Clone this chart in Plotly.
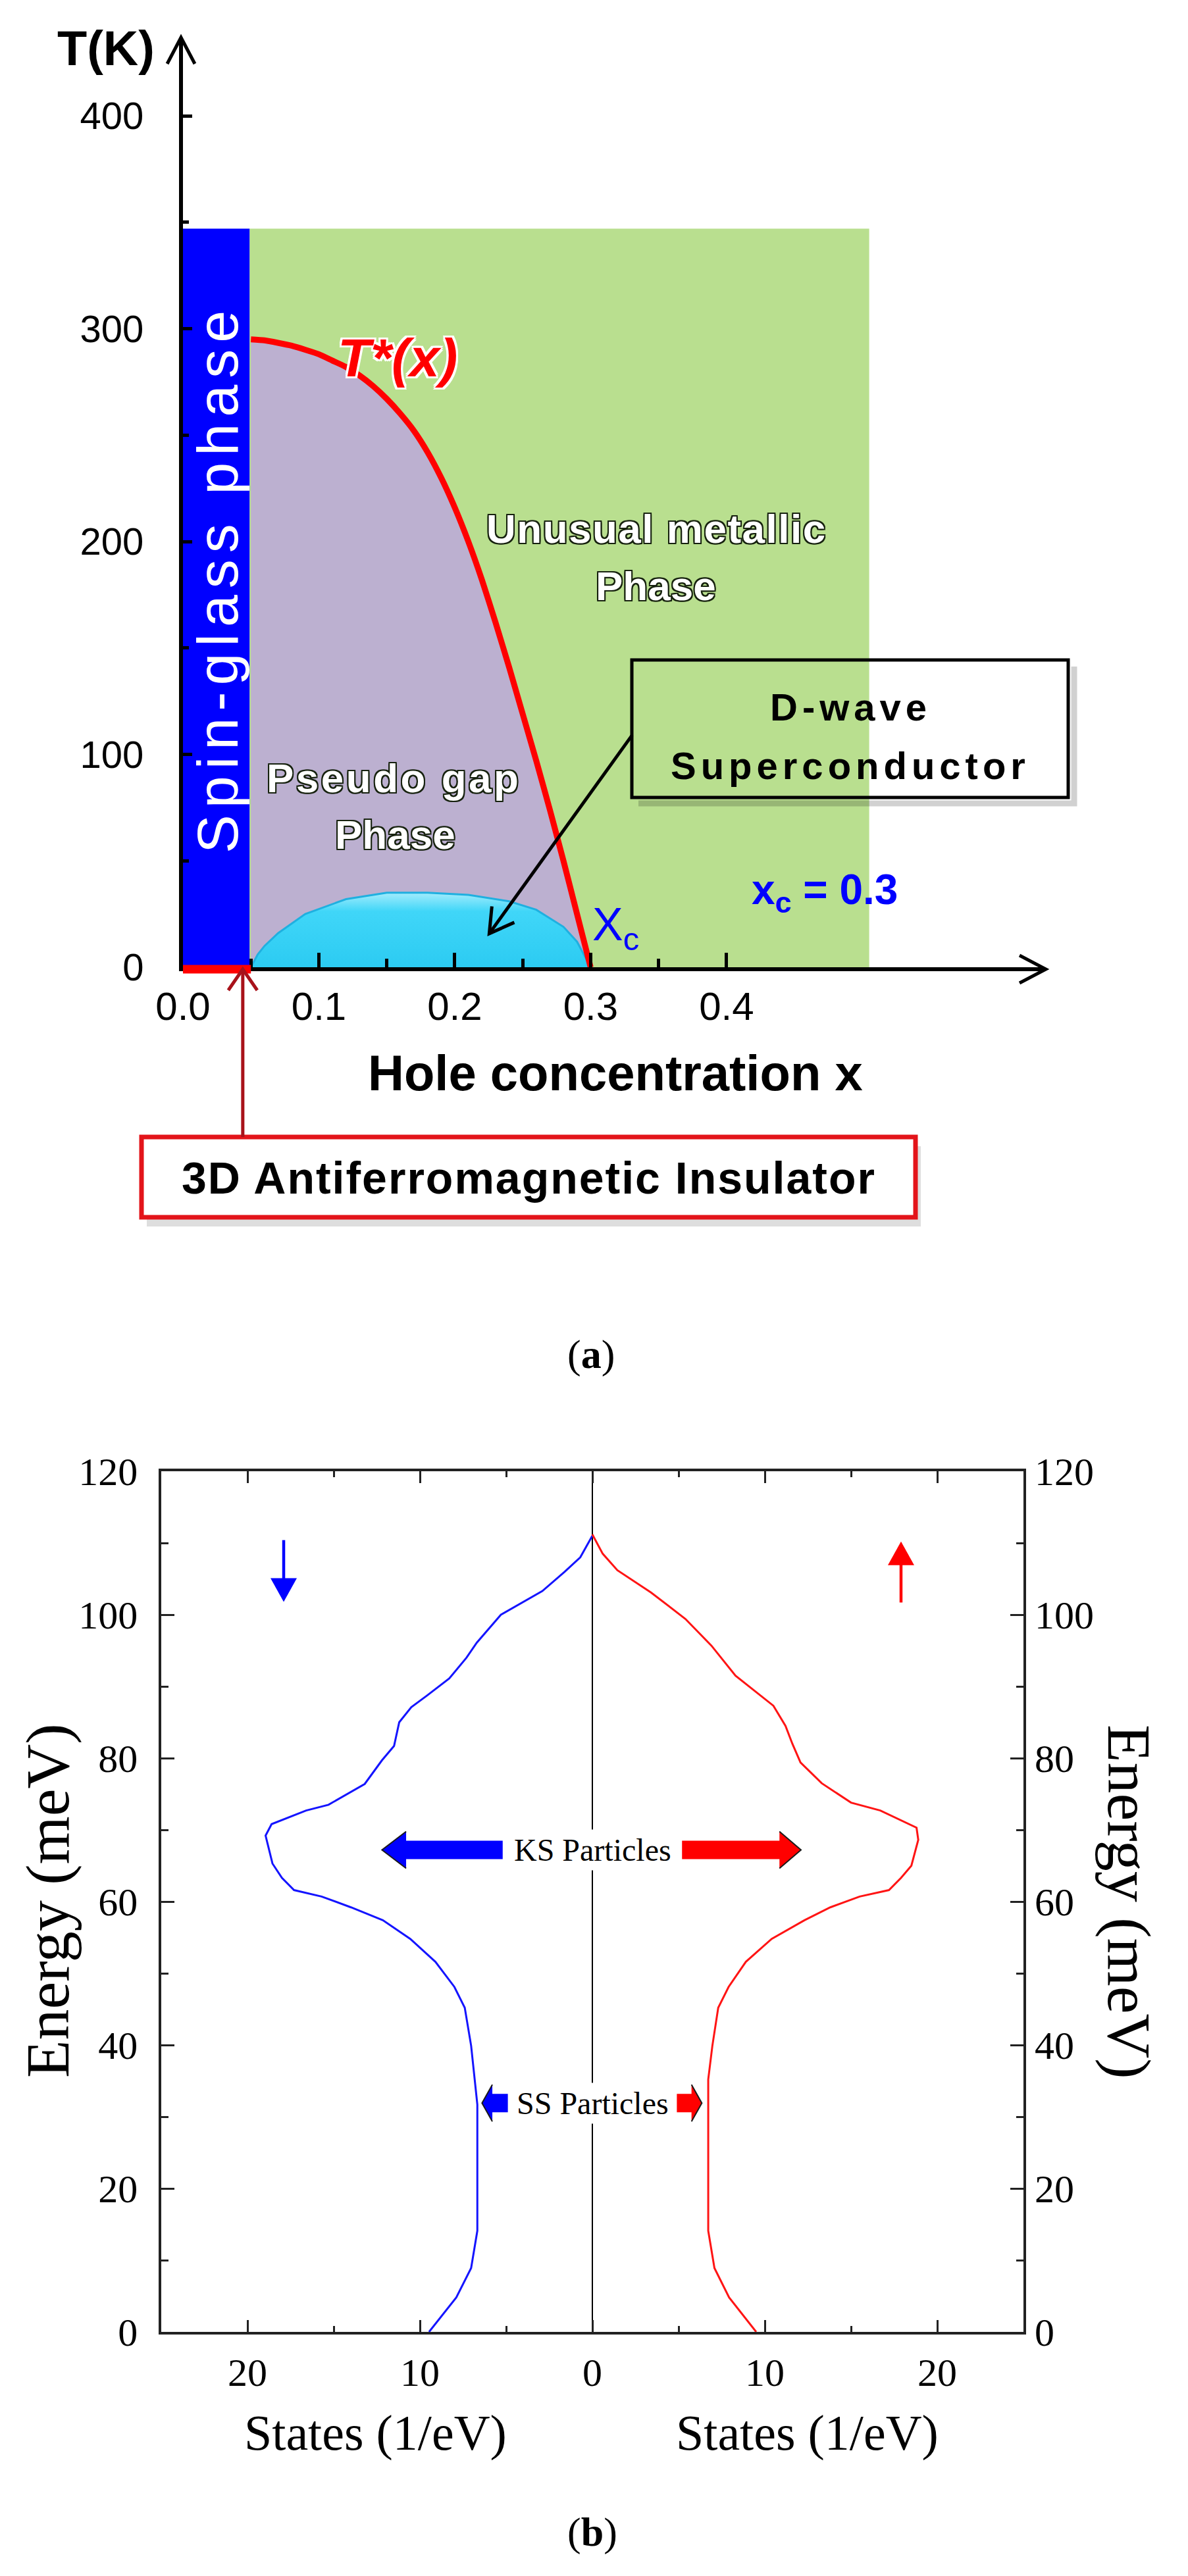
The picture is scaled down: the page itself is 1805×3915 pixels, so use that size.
import math
import plotly.graph_objects as go

W, H = 1805, 3915

# ---------------- (a) cuprate phase diagram ----------------
spin_glass_x = [0.0, 0.049]
metal_x = [0.049, 0.505]
region_top_T = 347

tstar_x = [0.05, 0.06, 0.08, 0.10, 0.11, 0.12, 0.13, 0.14, 0.15, 0.16, 0.17, 0.18, 0.19,
           0.20, 0.21, 0.22, 0.23, 0.24, 0.25, 0.26, 0.27, 0.28, 0.29, 0.30]
tstar_T = [295, 294.5, 292, 288, 285, 282, 278, 273, 267, 260, 252, 242, 230,
           216, 200, 182, 162, 141, 119, 97, 74, 50, 25, 0]

dome_x = [0.05, 0.055, 0.06, 0.07, 0.09, 0.12, 0.15, 0.18, 0.21, 0.24, 0.26, 0.28, 0.29, 0.30]
dome_T = [0, 6, 10, 16, 25, 32, 35, 35, 34, 31, 27, 19, 12, 0]

af_x = [0.0, 0.05]
af_arrow_x = 0.044
dwave_arrow = dict(x0=0.3305, T0=109, x1=0.2254, T1=15.8)

a_xrange = [0, 0.635]
a_yrange = [0, 436.8]
a_xticks = [0.0, 0.1, 0.2, 0.3, 0.4]
a_xlabels = ["0.0", "0.1", "0.2", "0.3", "0.4"]
a_xminor = [0.05, 0.15, 0.25, 0.35]
a_yticks = [0, 100, 200, 300, 400]
a_yminor = [50, 150, 250, 350]

# ---------------- (b) density of states ----------------
dn_E = [111.0, 108.0, 106.0, 103.3, 100.0, 96.1, 94.0, 91.1, 88.7, 87.1, 85.0, 81.7,
        79.7, 76.4, 73.5, 72.7, 70.8, 69.2, 65.3, 63.3, 61.6, 60.7, 59.2, 57.4,
        54.8, 51.6, 48.1, 45.2, 39.9, 31.7, 14.1, 8.9, 4.8, 0.0]
dn_S = [0.0, -0.7, -1.6, -2.9, -5.3, -6.7, -7.3, -8.3, -9.6, -10.5, -11.2, -11.5,
        -12.2, -13.2, -15.3, -16.6, -18.6, -18.95, -18.55, -18.0, -17.3, -15.7, -14.0, -12.15,
        -10.56, -9.1, -8.0, -7.4, -7.03, -6.67, -6.67, -7.03, -7.89, -9.47]

up_E = [111.2, 108.5, 106.2, 103.1, 99.4, 95.7, 91.5, 87.3, 84.5, 82.0, 79.4, 76.5,
        73.8, 72.7, 70.3, 68.6, 65.0, 63.3, 61.6, 60.7, 59.2, 57.4, 54.8, 51.6,
        48.1, 45.2, 39.9, 35.2, 14.1, 8.9, 4.8, 0.0]
up_S = [0.0, 0.6, 1.45, 3.4, 5.4, 6.9, 8.3, 10.5, 11.2, 11.6, 12.07, 13.3,
        15.0, 16.7, 18.8, 18.9, 18.5, 17.9, 17.2, 15.5, 13.8, 12.3, 10.4, 8.9,
        7.9, 7.3, 6.96, 6.72, 6.72, 7.08, 7.93, 9.5]

# block arrows: (shaft start, head base, tip)
ks_E = 67.2
ks_dn = (-5.2, -10.8, -12.2)
ks_up = (5.2, 10.85, 12.1)
ss_E = 31.9
ss_dn = (-4.9, -5.8, -6.4)
ss_up = (4.9, 5.75, 6.35)

spin_dn = dict(S=-17.9, E0=110.4, E1=101.8)
spin_up = dict(S=17.9, E0=101.7, E1=110.2)

b_xrange = [-25, 25]
b_yrange = [0, 120]
b_xticks = [-20, -10, 0, 10, 20]
b_xlabels = ["20", "10", "0", "10", "20"]
b_xminor = [-15, -5, 5, 15]
b_yticks = [0, 20, 40, 60, 80, 100, 120]
b_yminor = [10, 30, 50, 70, 90, 110]

SANS = "Liberation Sans, Arial, sans-serif"
SERIF = "Liberation Serif, Times New Roman, serif"
GREEN = "#b9df8f"
PURPLE = "#bcb0d0"
BLUE = "#0000ff"

# plot boxes on the page, in pixels (left, right, top, bottom)
A_BOX = (278, 1589, 57, 1470)
B_BOX = (245, 1555, 2236, 3544)


def pp(x, y):
    """page pixel -> paper coordinates"""
    return x / W, 1 - y / H


def outline(color, w=2):
    offs = [(w, 0), (-w, 0), (0, w), (0, -w), (w, w), (-w, -w), (w, -w), (-w, w)]
    return ", ".join(f"{a}px {b}px 0 {color}" for a, b in offs)


def spaced(text, px):
    return f'<span style="letter-spacing:{px}px">{text}</span>'


fig = go.Figure()

# ---- panel (a) traces ----
fig.add_trace(go.Scatter(
    x=[metal_x[0], metal_x[1], metal_x[1], metal_x[0]],
    y=[0, 0, region_top_T, region_top_T],
    fill="toself", fillcolor=GREEN, mode="lines", line=dict(width=0),
    xaxis="x", yaxis="y", hoverinfo="skip"))
fig.add_trace(go.Scatter(
    x=[spin_glass_x[0], spin_glass_x[1], spin_glass_x[1], spin_glass_x[0]],
    y=[0, 0, region_top_T, region_top_T],
    fill="toself", fillcolor=BLUE, mode="lines", line=dict(width=0),
    xaxis="x", yaxis="y", hoverinfo="skip"))
fig.add_trace(go.Scatter(
    x=tstar_x + [tstar_x[0]], y=tstar_T + [0],
    fill="toself", fillcolor=PURPLE, mode="lines", line=dict(width=0),
    xaxis="x", yaxis="y", hoverinfo="skip"))
fig.add_trace(go.Scatter(
    x=dome_x, y=dome_T, fill="toself", mode="lines",
    fillgradient=dict(type="vertical", colorscale=[[0, "#2ccbf2"], [0.75, "#40d6f8"], [1, "#a2ecfc"]]),
    line=dict(color="#1fb0e0", width=3), xaxis="x", yaxis="y", hoverinfo="skip"))
fig.add_trace(go.Scatter(
    x=tstar_x, y=tstar_T, mode="lines",
    line=dict(color="#ff0000", width=9, shape="spline", smoothing=0.5),
    xaxis="x", yaxis="y", hoverinfo="skip"))

# ---- panel (b) traces ----
fig.add_trace(go.Scatter(
    x=[0, 0], y=[b_yticks[0], b_yticks[-1]], mode="lines",
    line=dict(color="black", width=2), xaxis="x2", yaxis="y2", hoverinfo="skip"))
fig.add_trace(go.Scatter(
    x=dn_S, y=dn_E, mode="lines", line=dict(color="#1414ff", width=3),
    xaxis="x2", yaxis="y2", hoverinfo="skip"))
fig.add_trace(go.Scatter(
    x=up_S, y=up_E, mode="lines", line=dict(color="#ff1414", width=3),
    xaxis="x2", yaxis="y3", hoverinfo="skip"))

shapes = []
annotations = []

# pixels per data unit
a_kx = (A_BOX[1] - A_BOX[0]) / (a_xrange[1] - a_xrange[0])
a_ky = (A_BOX[3] - A_BOX[2]) / (a_yrange[1] - a_yrange[0])
b_ky = (B_BOX[3] - B_BOX[2]) / (b_yrange[1] - b_yrange[0])

# axis arrow heads (open V) for panel (a)
xa0, ya_top = pp(A_BOX[0] - 3, A_BOX[2])
xa_end, ya0 = pp(A_BOX[1], A_BOX[3] + 3)
shapes.append(dict(type="path", xref="paper", yref="paper", xsizemode="pixel", ysizemode="pixel",
                   xanchor=xa0, yanchor=ya_top, path="M-21,-40 L0,0 L21,-40",
                   line=dict(color="black", width=5)))
shapes.append(dict(type="path", xref="paper", yref="paper", xsizemode="pixel", ysizemode="pixel",
                   xanchor=xa_end, yanchor=ya0, path="M-40,21 L0,0 L-40,-21",
                   line=dict(color="black", width=5)))

# antiferromagnetic segment on the x axis
shapes.append(dict(type="line", xref="x", yref="paper", x0=af_x[0], x1=af_x[1],
                   y0=ya0, y1=ya0, line=dict(color="#ff0000", width=13), layer="above"))

# 3D AF box
bx0, by0 = pp(215, 1728)
bx1, by1 = pp(1391, 1850)
shapes.append(dict(type="rect", xref="paper", yref="paper", x0=bx0 + 8 / W, x1=bx1 + 8 / W,
                   y0=by0 - 14 / H, y1=by1 - 14 / H, fillcolor="rgba(0,0,0,0.13)",
                   line=dict(width=0)))
shapes.append(dict(type="rect", xref="paper", yref="paper", x0=bx0, x1=bx1, y0=by0, y1=by1,
                   fillcolor="white", line=dict(color="#e3141a", width=7)))

# arrow from the AF box up to the axis
shapes.append(dict(type="line", xref="x", yref="paper", x0=af_arrow_x, x1=af_arrow_x,
                   y0=by0, y1=ya0, line=dict(color="#a8121a", width=5)))
shapes.append(dict(type="path", xref="x", yref="paper", xsizemode="pixel", ysizemode="pixel",
                   xanchor=af_arrow_x, yanchor=ya0, path="M-22,-32 L0,0 L22,-32",
                   line=dict(color="#a8121a", width=5)))

# D-wave box
dx0, dy0 = pp(960, 1003)
dx1, dy1 = pp(1623, 1212)
shapes.append(dict(type="path", xref="paper", yref="paper",
                   path=f"M{dx0 + 10 / W},{dy1 - 9 / H} L{dx1 + 9 / W},{dy1 - 9 / H} L{dx1 + 9 / W},{dy0 - 10 / H}",
                   line=dict(color="rgba(0,0,0,0.18)", width=9)))
shapes.append(dict(type="rect", xref="paper", yref="paper", x0=dx0, x1=dx1, y0=dy0, y1=dy1,
                   fillcolor="rgba(0,0,0,0)", line=dict(color="black", width=5)))

# arrow from the D-wave box to the dome
da = dwave_arrow
shapes.append(dict(type="line", xref="x", yref="y", x0=da["x0"], y0=da["T0"], x1=da["x1"], y1=da["T1"],
                   line=dict(color="black", width=5)))
ux, uy = (da["x1"] - da["x0"]) * a_kx, (da["T1"] - da["T0"]) * a_ky
n = math.hypot(ux, uy)
ux, uy = ux / n, uy / n
L, Wd = 36, 21
p1 = (-L * ux - Wd * uy, -L * uy + Wd * ux)
p2 = (-L * ux + Wd * uy, -L * uy - Wd * ux)
shapes.append(dict(type="path", xref="x", yref="y", xsizemode="pixel", ysizemode="pixel",
                   xanchor=da["x1"], yanchor=da["T1"],
                   path=f"M{p1[0]:.1f},{p1[1]:.1f} L0,0 L{p2[0]:.1f},{p2[1]:.1f}",
                   line=dict(color="black", width=5)))


def block_arrow(E, spec, color):
    s0, sb, st = spec
    h, hh = 14, 28
    shapes.append(dict(type="path", xref="x2", yref="y2", ysizemode="pixel", yanchor=E,
                       path=f"M{s0},{h} L{sb},{h} L{sb},{hh} L{st},0 L{sb},{-hh} L{sb},{-h} L{s0},{-h} Z",
                       fillcolor=color, line=dict(width=0)))
    shapes.append(dict(type="path", xref="x2", yref="y2", ysizemode="pixel", yanchor=E,
                       path=f"M{sb},{hh} L{st},0 L{sb},{-hh}",
                       line=dict(color="#1a1a1a", width=2)))


block_arrow(ks_E, ks_dn, "#0000ff")
block_arrow(ks_E, ks_up, "#ff0000")
block_arrow(ss_E, ss_dn, "#0000ff")
block_arrow(ss_E, ss_up, "#ff0000")

# spin arrows (thin shaft + filled head)
for spec, col in ((spin_dn, "#0000ff"), (spin_up, "#ff0000")):
    sgn = 1 if spec["E1"] > spec["E0"] else -1
    head = 36
    shapes.append(dict(type="line", xref="x2", yref="y2", x0=spec["S"], x1=spec["S"],
                       y0=spec["E0"], y1=spec["E1"] - sgn * (head - 4) / b_ky,
                       line=dict(color=col, width=4.5)))
    shapes.append(dict(type="path", xref="x2", yref="y2", xsizemode="pixel", ysizemode="pixel",
                       xanchor=spec["S"], yanchor=spec["E1"],
                       path=f"M-20,{-sgn * head} L20,{-sgn * head} L0,0 Z",
                       fillcolor=col, line=dict(width=0)))


# ---- annotations ----
def note(text, xy, size, color="black", family=SANS, angle=0, shadow=None, **kw):
    x, y = pp(*xy)
    f = dict(size=size, color=color, family=family)
    if shadow:
        f["shadow"] = shadow
    d = dict(text=text, x=x, y=y, xref="paper", yref="paper", showarrow=False,
             font=f, textangle=angle, xanchor="center", yanchor="middle")
    d.update(kw)
    annotations.append(d)


dark = "#17220f"
note("<b>T(K)</b>", (161, 73), 74)
note("<b>Hole concentration x</b>", (935, 1630), 76)
note("<b>" + spaced("3D Antiferromagnetic Insulator", 2) + "</b>", (803, 1790), 68)
note("<b>" + spaced("D-wave", 7) + "</b>", (1292, 1074), 58)
note("<b>" + spaced("Superconductor", 7) + "</b>", (1292, 1163), 58)
note(spaced("Spin-glass phase", 10), (331, 880), 88, color="white", angle=-90)
note("<b><i>T*(x)</i></b>", (604, 543), 82, color="#ff0000", shadow=outline("white", 3))
note("<b>" + spaced("Unusual metallic", 1.5) + "</b>", (997, 803), 62, color="white",
     shadow=outline(dark, 2))
note("<b>Phase</b>", (996, 890), 62, color="white", shadow=outline(dark, 2))
note("<b>" + spaced("Pseudo gap", 3.5) + "</b>", (598, 1182), 62, color="white",
     shadow=outline(dark, 2))
note("<b>Phase</b>", (600, 1268), 62, color="white", shadow=outline(dark, 2))
note("X<sub>c</sub>", (898, 1410), 70, color=BLUE, xanchor="left")
note("<b>x<sub>c</sub> = 0.3</b>", (1140, 1356), 64, color=BLUE, xanchor="left")
note("(<b>a</b>)", (898, 2058), 62, family=SERIF)

note("Energy (meV)", (72, 2889), 94, family=SERIF, angle=-90)
note("Energy (meV)", (1716, 2890), 94, family=SERIF, angle=90)
note("States (1/eV)", (570, 3697), 76, family=SERIF)
note("States (1/eV)", (1226, 3697), 76, family=SERIF)
note("(<b>b</b>)", (900, 3848), 62, family=SERIF)

for txt, E in (("KS Particles", ks_E), ("SS Particles", ss_E)):
    annotations.append(dict(text=txt, x=0, y=E, xref="x2", yref="y2", showarrow=False,
                            font=dict(size=48, family=SERIF, color="black"),
                            bgcolor="white", borderpad=4))

# ---- axes ----
ax_a = dict(showgrid=False, zeroline=False, showline=True, linecolor="black", linewidth=6,
            automargin=False)
ax_b = dict(showgrid=False, zeroline=False, showline=True, linecolor="#222", linewidth=3.5,
            mirror="ticks", automargin=False)
fig.update_layout(
    width=W, height=H, margin=dict(l=0, r=0, t=0, b=0, pad=0, autoexpand=False),
    paper_bgcolor="white", plot_bgcolor="rgba(0,0,0,0)", showlegend=False,
    xaxis=dict(**ax_a, domain=[A_BOX[0] / W, A_BOX[1] / W], range=a_xrange, anchor="y",
               tickvals=a_xticks, ticktext=a_xlabels, ticks="inside", ticklen=22,
               tickwidth=5, tickcolor="black", ticklabelstandoff=2,
               tickfont=dict(size=60, family=SANS, color="black"),
               minor=dict(tickvals=a_xminor, ticks="inside", ticklen=13, tickwidth=5,
                          tickcolor="black")),
    yaxis=dict(**ax_a, domain=[1 - A_BOX[3] / H, 1 - A_BOX[2] / H], range=a_yrange, anchor="x",
               tickvals=a_yticks, ticks="inside", ticklen=14, tickwidth=5, tickcolor="black",
               ticklabelstandoff=42, tickfont=dict(size=58, family=SANS, color="black"),
               minor=dict(tickvals=a_yminor, ticks="inside", ticklen=9, tickwidth=5,
                          tickcolor="black")),
    xaxis2=dict(**ax_b, domain=[B_BOX[0] / W, B_BOX[1] / W], range=b_xrange,
                anchor="y2", tickvals=b_xticks, ticktext=b_xlabels, ticks="inside",
                ticklen=18, tickwidth=3, tickcolor="#222", ticklabelstandoff=6,
                tickfont=dict(size=60, family=SERIF, color="black"),
                minor=dict(tickvals=b_xminor, ticks="inside", ticklen=9, tickwidth=3,
                           tickcolor="#222")),
    yaxis2=dict(**ax_b, domain=[1 - B_BOX[3] / H, 1 - B_BOX[2] / H],
                range=b_yrange, anchor="x2", tickvals=b_yticks, ticks="inside", ticklen=20,
                tickwidth=3, tickcolor="#222", ticklabelstandoff=20,
                tickfont=dict(size=60, family=SERIF, color="black"),
                minor=dict(tickvals=b_yminor, ticks="inside", ticklen=11, tickwidth=3,
                           tickcolor="#222")),
    yaxis3=dict(showgrid=False, zeroline=False, showline=False, overlaying="y2",
                side="right", anchor="x2", range=b_yrange, tickvals=b_yticks, ticks="",
                automargin=False, ticklabelstandoff=16,
                tickfont=dict(size=60, family=SERIF, color="black")),
    shapes=shapes, annotations=annotations,
)

fig.write_html("out.html", config={"displayModeBar": False},
               post_script="document.body.style.margin='0px';")
